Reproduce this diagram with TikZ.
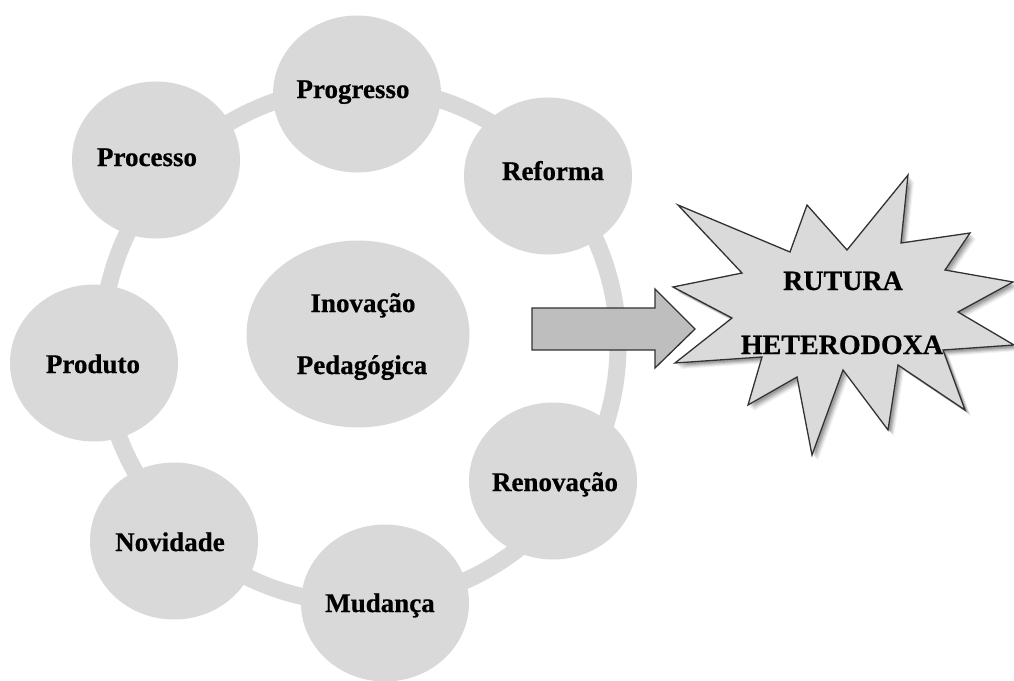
\documentclass[tikz,border=0pt]{standalone}
\usepackage{fontspec}
\setmainfont{Liberation Serif}
\newfontface\heavyserif{Liberation Serif Bold}[FakeBold=0.6]
\usetikzlibrary{shapes.geometric}
\definecolor{bubblegray}{RGB}{217,217,217}
\definecolor{burstgray}{RGB}{218,218,218}
\definecolor{arrowgray}{RGB}{190,190,190}
\definecolor{outline}{RGB}{50,50,50}
\begin{document}
\begin{tikzpicture}[x=1pt,y=-1pt,
  bubble/.style={ellipse, fill=bubblegray, minimum width=168pt, minimum height=157pt,
    inner sep=0pt},
  core/.style={ellipse, fill=bubblegray, minimum width=223pt, minimum height=187pt,
    inner sep=0pt},
  tag/.style={anchor=base, inner sep=0pt, font=\fontsize{27}{30}\selectfont\heavyserif},
  bigtag/.style={anchor=base, inner sep=0pt, font=\fontsize{28}{30}\selectfont\heavyserif},
  ring/.style={draw=bubblegray, line width=17pt},
  blockarrow/.style={fill=arrowgray, draw=outline, line width=1.3pt, line join=miter},
  burst/.style={fill=burstgray, draw=outline, line width=1.3pt, line join=miter}
]
\useasboundingbox (0,0) rectangle (1014,680);
\fill[white] (0,0) rectangle (1014,680);

% ring joining the outer bubbles
\coordinate (hub) at (360,345);
\draw[ring] (hub) circle[radius=258pt];

% outer bubbles
\node[bubble] (progresso) at (357,94) {};
\node[bubble] (processo)  at (156,160) {};
\node[bubble] (reforma)   at (548,176) {};
\node[bubble] (produto)   at (94,363) {};
\node[bubble] (renovacao) at (553,481) {};
\node[bubble] (novidade)  at (174,541) {};
\node[bubble] (mudanca)   at (385,603) {};

% central bubble
\node[core] (inovacao) at (358,334) {};

% bubble labels
\node[tag] (t-progresso) at (353,98)  {Progresso};
\node[tag] (t-processo)  at (147,166) {Processo};
\node[tag] (t-reforma)   at (553,180) {Reforma};
\node[tag] (t-produto)   at (93,373)  {Produto};
\node[tag] (t-renovacao) at (555,491) {Renovação};
\node[tag] (t-novidade)  at (170,551) {Novidade};
\node[tag] (t-mudanca)   at (380,612) {Mudança};
\node[tag] (t-inovacao)  at (363,312) {Inovação};
\node[tag] (t-pedagog)   at (362,374) {Pedagógica};

% block arrow
\draw[blockarrow] (532,308) -- (655,308) -- (655,289) -- (695,329)
  -- (655,368) -- (655,350) -- (532,350) -- cycle;

% burst with soft shadow
\def\burstpath{(908,175) -- (901,243) -- (970,233) -- (945,270) -- (1013,282)
  -- (958,312) -- (1014,345) -- (943,350) -- (965,410) -- (898,365)
  -- (888,430) -- (843,370) -- (812,455) -- (797,377) -- (748,405)
  -- (762,357) -- (675,363) -- (732,318) -- (673,287) -- (742,273)
  -- (678,205) -- (790,252) -- (807,205) -- (847,250) -- cycle}
\foreach \s/\o in {6/0.05,5/0.07,4/0.09,3/0.11,2/0.12}{
  \fill[black, opacity=\o, shift={(\s,\s)}] \burstpath;
}
\draw[burst] \burstpath;
\node[bigtag] (rutura) at (843,290) {RUTURA};
\node[bigtag] (heterodoxa) at (842,354) {HETERODOXA};
\end{tikzpicture}
\end{document}
